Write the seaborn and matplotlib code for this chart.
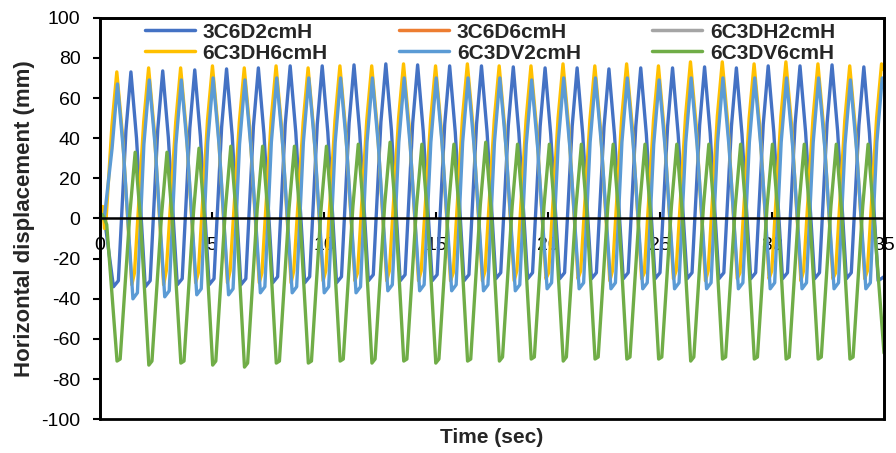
import numpy as np
import pandas as pd
import matplotlib
matplotlib.use("Agg")
import matplotlib.pyplot as plt
from matplotlib.lines import Line2D
from matplotlib.patches import Rectangle
import seaborn as sns

# ---------------- data ----------------
series_names = ["3C6D2cmH", "3C6D6cmH", "6C3DH2cmH", "6C3DH6cmH", "6C3DV2cmH", "6C3DV6cmH"]
series_colors = ["#4472C4", "#ED7D31", "#A5A5A5", "#FFC000", "#5B9BD5", "#70AD47"]

# 3C6D2cmH (dark blue)
db_start_t = [0.0, 0.2]
db_start_v = [0, 0]
db_peak_t = [1.38, 2.80, 4.23, 5.65, 7.07, 8.49, 9.92, 11.34, 12.76, 14.18, 15.61, 17.03,
             18.45, 19.87, 21.30, 22.72, 24.14, 25.56, 26.99, 28.41, 29.83, 31.25, 32.68, 34.10]
db_peak_v = [73, 73.5, 74, 74.5, 75, 76, 76, 76.5, 77, 76.5, 76, 76,
             75.5, 75, 75, 74.5, 75, 75, 75.5, 75, 76, 76, 76.5, 75.5]
db_pre_t = [1.16, 2.58, 4.01, 5.43, 6.85, 8.27, 9.70, 11.12, 12.54, 13.96, 15.39, 16.81,
            18.23, 19.65, 21.08, 22.50, 23.92, 25.34, 26.77, 28.19, 29.61, 31.03, 32.46, 33.88]
db_pre_v = [44, 44.5, 45, 45.5, 46, 47, 47, 47.5, 48, 47.5, 47, 47,
            46.5, 46, 46, 45.5, 46, 46, 46.5, 46, 47, 47, 47.5, 46.5]
db_post_t = [1.63, 3.05, 4.48, 5.90, 7.32, 8.74, 10.17, 11.59, 13.01, 14.43, 15.86, 17.28,
             18.70, 20.12, 21.55, 22.97, 24.39, 25.81, 27.24, 28.66, 30.08, 31.50, 32.93, 34.35]
db_post_v = [40, 40.5, 41, 41.5, 42, 43, 43, 43.5, 44, 43.5, 43, 43,
             42.5, 42, 42, 41.5, 42, 42, 42.5, 42, 43, 43, 43.5, 42.5]
db_trough_t = [0.60, 2.02, 3.45, 4.87, 6.29, 7.71, 9.14, 10.56, 11.98, 13.40, 14.83, 16.25, 17.67,
               19.09, 20.52, 21.94, 23.36, 24.78, 26.21, 27.63, 29.05, 30.47, 31.90, 33.32, 34.74]
db_trough_v = [-34, -34, -33, -33, -33, -32, -32, -32, -31, -31, -31, -31, -30,
               -30, -30, -30, -30, -30, -30, -30, -30, -30, -30, -30, -31]
db_shelf_t = [0.82, 2.24, 3.67, 5.09, 6.51, 7.93, 9.36, 10.78, 12.20, 13.62, 15.05, 16.47,
              17.89, 19.31, 20.74, 22.16, 23.58, 25.00, 26.43, 27.85, 29.27, 30.69, 32.12, 33.54]
db_shelf_v = [-31, -31, -30, -30, -30, -29, -29, -29, -28, -28, -28, -28,
              -27, -27, -27, -27, -27, -27, -27, -27, -27, -27, -27, -27]
db_end_t = [35.0]
db_end_v = [-29]

# 6C3DH6cmH (yellow)
yh_start_t = [0.0, 0.12, 0.2, 0.28]
yh_start_v = [0, 6, -5, 1]
yh_peak_t = [0.75, 2.17, 3.60, 5.02, 6.44, 7.86, 9.29, 10.71, 12.13, 13.55, 14.98, 16.40, 17.82,
             19.24, 20.67, 22.09, 23.51, 24.93, 26.36, 27.78, 29.20, 30.62, 32.05, 33.47, 34.89]
yh_peak_v = [73, 75, 75, 76, 75, 76, 75, 76, 76, 77, 76, 77, 76,
             76, 77, 76, 77, 76, 78, 78, 77, 78, 77, 76, 77]
yh_pre_t = [0.53, 1.95, 3.38, 4.80, 6.22, 7.64, 9.07, 10.49, 11.91, 13.33, 14.76, 16.18, 17.60,
            19.02, 20.45, 21.87, 23.29, 24.71, 26.14, 27.56, 28.98, 30.40, 31.83, 33.25, 34.67]
yh_pre_v = [46, 48, 48, 49, 48, 49, 48, 49, 49, 50, 49, 50, 49,
            49, 50, 49, 50, 49, 51, 51, 50, 51, 50, 49, 50]
yh_post_t = [1.00, 2.42, 3.85, 5.27, 6.69, 8.11, 9.54, 10.96, 12.38, 13.80, 15.23, 16.65,
             18.07, 19.49, 20.92, 22.34, 23.76, 25.18, 26.61, 28.03, 29.45, 30.87, 32.30, 33.72]
yh_post_v = [42, 44, 44, 45, 44, 45, 44, 45, 45, 46, 45, 46,
             45, 45, 46, 45, 46, 45, 47, 47, 46, 47, 46, 45]
yh_trough_t = [1.42, 2.84, 4.27, 5.69, 7.11, 8.53, 9.96, 11.38, 12.80, 14.22, 15.65, 17.07,
               18.49, 19.91, 21.34, 22.76, 24.18, 25.60, 27.03, 28.45, 29.87, 31.29, 32.72, 34.14]
yh_trough_v = [-33, -33, -32, -32, -32, -32, -31, -31, -31, -31, -31, -31,
               -31, -30, -30, -31, -30, -30, -31, -30, -30, -31, -30, -30]
yh_spike_t = [1.54, 2.96, 4.39, 5.81, 7.23, 8.65, 10.08, 11.50, 12.92, 14.34, 15.77, 17.19,
              18.61, 20.03, 21.46, 22.88, 24.30, 25.72, 27.15, 28.57, 29.99, 31.41, 32.84, 34.26]
yh_spike_v = [-27, -26, -27, -26, -27, -26, -26, -27, -26, -26, -27, -26,
              -26, -27, -26, -26, -27, -26, -26, -27, -26, -26, -27, -26]
yh_end_t = [35.0]
yh_end_v = [74]

# 6C3DV2cmH (light blue)
lb_start_t = [0.0, 0.2]
lb_start_v = [0, 1]
lb_peak_t = [0.78, 2.20, 3.63, 5.05, 6.47, 7.89, 9.32, 10.74, 12.16, 13.58, 15.01, 16.43, 17.85,
             19.27, 20.70, 22.12, 23.54, 24.96, 26.39, 27.81, 29.23, 30.65, 32.08, 33.50, 34.92]
lb_peak_v = [67, 69, 69, 70, 69, 70, 70, 70, 70, 70, 70, 70, 70,
             69, 70, 70, 70, 69, 70, 70, 70, 70, 70, 69, 70]
lb_pre_t = [0.54, 1.96, 3.39, 4.81, 6.23, 7.65, 9.08, 10.50, 11.92, 13.34, 14.77, 16.19, 17.61,
            19.03, 20.46, 21.88, 23.30, 24.72, 26.15, 27.57, 28.99, 30.41, 31.84, 33.26, 34.68]
lb_pre_v = [35, 37, 37, 38, 37, 38, 38, 38, 38, 38, 38, 38, 38,
            37, 38, 38, 38, 37, 38, 38, 38, 38, 38, 37, 38]
lb_post_t = [1.05, 2.47, 3.90, 5.32, 6.74, 8.16, 9.59, 11.01, 12.43, 13.85, 15.28, 16.70,
             18.12, 19.54, 20.97, 22.39, 23.81, 25.23, 26.66, 28.08, 29.50, 30.92, 32.35, 33.77]
lb_post_v = [33, 35, 35, 36, 35, 36, 36, 36, 36, 36, 36, 36,
             36, 35, 36, 36, 36, 35, 36, 36, 36, 36, 36, 35]
lb_trough_t = [1.47, 2.89, 4.32, 5.74, 7.16, 8.58, 10.01, 11.43, 12.85, 14.27, 15.70, 17.12,
               18.54, 19.96, 21.39, 22.81, 24.23, 25.65, 27.08, 28.50, 29.92, 31.34, 32.77, 34.19]
lb_trough_v = [-40, -39, -38, -38, -37, -37, -37, -37, -36, -36, -36, -36,
               -36, -35, -35, -35, -35, -35, -35, -35, -35, -35, -35, -35]
lb_shelf_t = [1.67, 3.09, 4.52, 5.94, 7.36, 8.78, 10.21, 11.63, 13.05, 14.47, 15.90, 17.32,
              18.74, 20.16, 21.59, 23.01, 24.43, 25.85, 27.28, 28.70, 30.12, 31.54, 32.97, 34.39]
lb_shelf_v = [-37, -36, -35, -35, -34, -34, -34, -34, -33, -33, -33, -33,
              -33, -32, -32, -32, -32, -32, -32, -32, -32, -32, -32, -32]
lb_end_t = [35.0]
lb_end_v = [68]

# 6C3DV6cmH (green)
gr_start_t = [0.0, 0.1, 0.2, 0.3]
gr_start_v = [0, 2, 0, -3]
gr_trough_a_t = [0.76, 2.18, 3.61, 5.03, 6.45, 7.87, 9.30, 10.72, 12.14, 13.56, 14.99, 16.41,
                 17.83, 19.25, 20.68, 22.10, 23.52, 24.94, 26.37, 27.79, 29.21, 30.63, 32.06, 33.48]
gr_trough_a_v = [-71, -73, -72, -73, -74, -72, -72, -71, -72, -71, -72, -71,
                 -71, -70, -71, -70, -70, -70, -71, -70, -70, -70, -70, -70]
gr_trough_b_t = [0.90, 2.32, 3.75, 5.17, 6.59, 8.01, 9.44, 10.86, 12.28, 13.70, 15.13, 16.55,
                 17.97, 19.39, 20.82, 22.24, 23.66, 25.08, 26.51, 27.93, 29.35, 30.77, 32.20, 33.62]
gr_trough_b_v = [-70, -71, -71, -71, -72, -71, -71, -70, -70, -70, -70, -70,
                 -69, -69, -69, -69, -69, -69, -69, -69, -69, -69, -69, -69]
gr_pre_t = [1.33, 2.75, 4.18, 5.60, 7.02, 8.44, 9.87, 11.29, 12.71, 14.13, 15.56, 16.98,
            18.40, 19.82, 21.25, 22.67, 24.09, 25.51, 26.94, 28.36, 29.78, 31.20, 32.63, 34.05]
gr_pre_v = [2, 2, 4, 5, 5, 5, 5, 6, 7, 6, 6, 7,
            6, 6, 6, 6, 6, 6, 6, 6, 6, 6, 6, 6]
gr_peak_t = [1.57, 2.99, 4.42, 5.84, 7.26, 8.68, 10.11, 11.53, 12.95, 14.37, 15.80, 17.22,
             18.64, 20.06, 21.49, 22.91, 24.33, 25.75, 27.18, 28.60, 30.02, 31.44, 32.87, 34.29]
gr_peak_v = [33, 33, 35, 36, 36, 36, 36, 37, 38, 37, 37, 38,
             37, 37, 37, 37, 37, 37, 37, 37, 37, 37, 37, 37]
gr_post_t = [1.81, 3.23, 4.66, 6.08, 7.50, 8.92, 10.35, 11.77, 13.19, 14.61, 16.04, 17.46,
             18.88, 20.30, 21.73, 23.15, 24.57, 25.99, 27.42, 28.84, 30.26, 31.68, 33.11, 34.53]
gr_post_v = [-1, -1, 1, 2, 2, 2, 2, 3, 4, 3, 3, 4,
             3, 3, 3, 3, 3, 3, 3, 3, 3, 3, 3, 3]
gr_end_t = [35.0]
gr_end_v = [-67]

x_ticks = [0, 5, 10, 15, 20, 25, 30, 35]
y_ticks = [-100, -80, -60, -40, -20, 0, 20, 40, 60, 80, 100]


def assemble(name, parts):
    t = np.concatenate([np.asarray(p[0], float) for p in parts])
    v = np.concatenate([np.asarray(p[1], float) for p in parts])
    order = np.argsort(t, kind="stable")
    return pd.DataFrame({"Time": t[order], "Disp": v[order], "Series": name})


df = pd.concat([
    assemble("3C6D2cmH", [(db_start_t, db_start_v), (db_pre_t, db_pre_v), (db_peak_t, db_peak_v),
                          (db_post_t, db_post_v), (db_trough_t, db_trough_v),
                          (db_shelf_t, db_shelf_v), (db_end_t, db_end_v)]),
    assemble("6C3DH6cmH", [(yh_start_t, yh_start_v), (yh_pre_t, yh_pre_v), (yh_peak_t, yh_peak_v),
                           (yh_post_t, yh_post_v), (yh_trough_t, yh_trough_v),
                           (yh_spike_t, yh_spike_v), (yh_end_t, yh_end_v)]),
    assemble("6C3DV2cmH", [(lb_start_t, lb_start_v), (lb_pre_t, lb_pre_v), (lb_peak_t, lb_peak_v),
                           (lb_post_t, lb_post_v), (lb_trough_t, lb_trough_v),
                           (lb_shelf_t, lb_shelf_v), (lb_end_t, lb_end_v)]),
    assemble("6C3DV6cmH", [(gr_start_t, gr_start_v), (gr_trough_a_t, gr_trough_a_v),
                           (gr_trough_b_t, gr_trough_b_v), (gr_pre_t, gr_pre_v),
                           (gr_peak_t, gr_peak_v), (gr_post_t, gr_post_v), (gr_end_t, gr_end_v)]),
], ignore_index=True)

# ---------------- styling ----------------
sns.set_style("white")
plt.rcParams["font.family"] = ["Liberation Sans", "DejaVu Sans"]

palette = dict(zip(series_names, series_colors))
drawn = ["3C6D2cmH", "6C3DH6cmH", "6C3DV2cmH", "6C3DV6cmH"]

fig = plt.figure(figsize=(8.96, 4.53), dpi=100)
ax = fig.add_axes([100 / 896, 1 - 419.3 / 453, 784 / 896, 401.6 / 453])

sns.lineplot(data=df, x="Time", y="Disp", hue="Series", hue_order=drawn,
             palette={k: palette[k] for k in drawn}, estimator=None, sort=False,
             linewidth=2.4, legend=False, ax=ax)
for ln in ax.get_lines():
    ln.set_solid_joinstyle("round")

ax.set_xlim(0, 35)
ax.set_ylim(-100, 100)
ax.set_xticks(x_ticks)
ax.set_yticks(y_ticks)
ax.set_xticklabels([str(t) for t in x_ticks])
ax.set_yticklabels([str(t) for t in y_ticks])

for s in ["left", "right", "top", "bottom"]:
    ax.spines[s].set_visible(True)
    ax.spines[s].set_color("black")
    ax.spines[s].set_linewidth(1.8)
ax.spines["bottom"].set_position(("data", 0))
ax.add_patch(Rectangle((0, 0), 1, 1, transform=ax.transAxes, fill=False,
                       edgecolor="black", linewidth=2.0, clip_on=False, zorder=3))

ax.tick_params(axis="y", direction="out", length=5, width=1.5, pad=9,
               labelsize=14, left=True, right=False, colors="black")
ax.tick_params(axis="x", direction="in", length=4, width=1.5, pad=13,
               labelsize=14, bottom=True, top=False, colors="black")

ax.set_xlabel("Time (sec)", fontsize=15, fontweight="bold")
ax.set_ylabel("Horizontal displacement (mm)", fontsize=16, fontweight="bold")
ax.xaxis.set_label_coords(0.5, -0.022)
ax.yaxis.set_label_coords(-0.083, 0.5)
ax.grid(False)

order = ["3C6D2cmH", "6C3DH6cmH", "3C6D6cmH", "6C3DV2cmH", "6C3DH2cmH", "6C3DV6cmH"]
handles = [Line2D([], [], color=palette[n], linewidth=2.5) for n in order]
leg = ax.legend(handles, order, ncol=3, loc="upper left",
                bbox_to_anchor=(45 / 784, 0.988), frameon=False,
                prop={"weight": "bold", "size": 15},
                handlelength=2.4, handletextpad=0.37, columnspacing=3.42,
                labelspacing=0.1, borderpad=0, borderaxespad=0)

fig.savefig("out.png", dpi=100)
